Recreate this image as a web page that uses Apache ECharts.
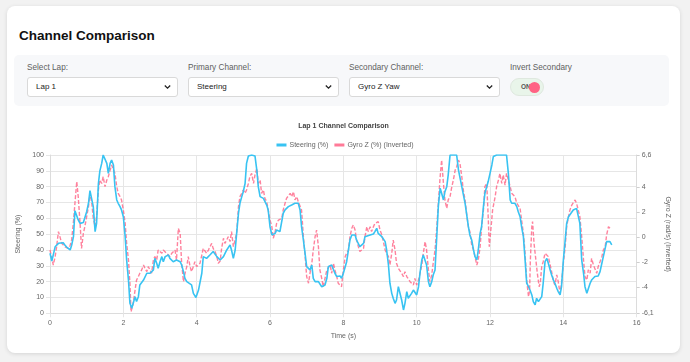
<!DOCTYPE html>
<html>
<head>
<meta charset="utf-8">
<script src="https://cdn.jsdelivr.net/npm/echarts@6/dist/echarts.min.js"></script>
<style>
  html, body { margin:0; padding:0; }
  body { width:690px; height:362px; background:#f2f2f2; position:relative; overflow:hidden;
         font-family:'Liberation Sans', Arial, Helvetica, sans-serif; }
  .card { position:absolute; left:7px; top:6px; width:673px; height:347px; background:#fff;
          border-radius:8px; box-shadow:0 1px 4px rgba(0,0,0,0.12); }
  .h { position:absolute; left:19px; top:28.5px; font-size:13.5px; line-height:13.5px; font-weight:bold; color:#111; }
  .panel { position:absolute; left:14px; top:55px; width:655px; height:51px; background:#f7f8fa; border-radius:5px; }
  .lbl { position:absolute; top:63.5px; font-size:8.2px; line-height:8.5px; color:#606060; }
  .sel { position:absolute; top:77px; width:149px; height:18px; background:#fff; border:1px solid #d9d9d9;
         border-radius:3px; font-size:8px; line-height:18px; color:#222; box-sizing:content-box; }
  .sel span { position:absolute; left:8px; top:0; }
  .sel svg { position:absolute; right:6px; top:6px; }
  .tog { position:absolute; left:510px; top:78px; width:32px; height:16px; background:#e9f5ea;
         border:1px solid #dfe8df; border-radius:9px; }
  .tog span { position:absolute; left:10px; top:4px; font-size:6.5px; line-height:7px; color:#555; font-weight:bold; }
  .knob { position:absolute; left:529px; top:82px; width:11px; height:11px; border-radius:50%; background:#ff6384; }
  #chart { position:absolute; left:0; top:110px; width:690px; height:240px; }
</style>
</head>
<body>
<div class="card"></div>
<div class="h">Channel Comparison</div>
<div class="panel"></div>
<div class="lbl" style="left:27px">Select Lap:</div>
<div class="lbl" style="left:188px">Primary Channel:</div>
<div class="lbl" style="left:349px">Secondary Channel:</div>
<div class="lbl" style="left:510px">Invert Secondary</div>
<div class="sel" style="left:27px"><span>Lap 1</span><svg width="7" height="6" viewBox="0 0 7 6"><path d="M0.8 1.5 L3.5 4.2 L6.2 1.5" stroke="#222" stroke-width="1.3" fill="none"/></svg></div>
<div class="sel" style="left:188px"><span>Steering</span><svg width="7" height="6" viewBox="0 0 7 6"><path d="M0.8 1.5 L3.5 4.2 L6.2 1.5" stroke="#222" stroke-width="1.3" fill="none"/></svg></div>
<div class="sel" style="left:349px"><span>Gyro Z Yaw</span><svg width="7" height="6" viewBox="0 0 7 6"><path d="M0.8 1.5 L3.5 4.2 L6.2 1.5" stroke="#222" stroke-width="1.3" fill="none"/></svg></div>
<div class="tog"><span>ON</span></div>
<div class="knob"></div>
<div id="chart"></div>
<script>
const chartTitle = 'Lap 1 Channel Comparison';
const seriesNames = ['Steering (%)', 'Gyro Z (%) (Inverted)'];
const xName = 'Time (s)';
const yLeftName = 'Steering (%)';
const yRightName = 'Gyro Z (rad/s) (Inverted)';
const rightTicks = [-6.1, -4, -2, 0, 2, 4, 6.6];

const steering = [[0,37.9],[0.05,33],[0.14,42],[0.23,44.2],[0.36,44.6],[0.41,43],[0.46,41.7],[0.5,42.5],[0.55,40],[0.59,43],[0.64,48.4],[0.68,64.8],[0.73,64.8],[0.77,59],[0.82,56.8],[0.91,57.3],[0.95,57.9],[1.0,64.2],[1.05,69.5],[1.09,77.5],[1.14,76.8],[1.18,67.4],[1.23,51.6],[1.27,56.8],[1.32,82],[1.36,90],[1.41,94.7],[1.45,100],[1.5,100],[1.55,94.7],[1.59,88.4],[1.64,94.7],[1.68,96.8],[1.73,93.7],[1.77,80],[1.82,71.6],[1.86,69.5],[1.91,67.4],[1.95,65.3],[2.0,61],[2.05,48.4],[2.09,33.7],[2.14,21],[2.18,6.3],[2.23,3.2],[2.27,4.2],[2.32,10.5],[2.36,7.4],[2.41,10.5],[2.45,17.9],[2.5,16.8],[2.55,21],[2.59,22],[2.64,25.3],[2.68,26.3],[2.73,25.3],[2.77,24.2],[2.82,27.4],[2.86,34.7],[2.91,31.6],[2.95,28.4],[3.0,32.6],[3.05,35.8],[3.09,32.6],[3.14,35.8],[3.18,34.7],[3.23,36.8],[3.27,34.7],[3.36,32.6],[3.45,33.7],[3.55,32.6],[3.59,30.5],[3.64,26.3],[3.68,22.1],[3.73,20],[3.77,19],[3.86,18],[3.91,12.6],[3.98,10],[4.05,14.7],[4.14,25.3],[4.18,35.8],[4.27,34.7],[4.36,36.8],[4.45,39],[4.55,35.8],[4.64,33.7],[4.73,35.8],[4.82,40],[4.91,43.2],[4.95,40],[5.0,34.7],[5.05,40],[5.09,50.5],[5.14,63.2],[5.18,69.5],[5.23,73.7],[5.27,76.8],[5.32,82],[5.36,94.7],[5.41,99.4],[5.5,100],[5.59,99.4],[5.64,90.5],[5.68,80],[5.73,73.7],[5.82,72.6],[5.91,68.4],[5.95,65.3],[6.0,54.7],[6.05,49.5],[6.14,50.5],[6.18,52.6],[6.27,51.6],[6.32,52.6],[6.36,63.2],[6.41,65.3],[6.5,67.4],[6.59,68.4],[6.68,69.5],[6.73,70.5],[6.77,69.5],[6.82,65.3],[6.86,54.7],[6.91,46.3],[6.95,39],[7.0,29.5],[7.05,30.5],[7.09,27.4],[7.14,30.5],[7.18,22.1],[7.23,20],[7.32,20],[7.41,16.8],[7.45,15.8],[7.5,17.9],[7.55,22.1],[7.59,29.5],[7.68,30.5],[7.77,25.3],[7.82,23.2],[7.91,23.6],[7.95,22.1],[8.0,25.3],[8.09,32.6],[8.18,46.3],[8.23,49.5],[8.32,49.5],[8.36,46.3],[8.45,42.1],[8.5,41],[8.55,44.2],[8.59,48.4],[8.64,49.5],[8.73,49.5],[8.82,50.1],[8.86,51.6],[8.91,53.7],[8.95,50.5],[9.05,48.4],[9.14,45.3],[9.18,40],[9.23,30.5],[9.27,19],[9.32,12.6],[9.36,9.5],[9.41,6.3],[9.45,8.4],[9.5,16.8],[9.55,17.9],[9.59,8.4],[9.64,2.1],[9.68,6.3],[9.73,13.7],[9.77,9.5],[9.82,8.8],[9.86,12.6],[9.91,14.7],[9.95,15.8],[10.0,11.6],[10.05,16.8],[10.09,25.3],[10.14,33.7],[10.18,36.8],[10.23,35.8],[10.27,30.5],[10.32,20],[10.36,16.8],[10.41,20],[10.45,24.2],[10.5,27.4],[10.55,49.5],[10.59,67.4],[10.64,79],[10.68,75.8],[10.73,71.6],[10.77,76.8],[10.82,80],[10.86,87.4],[10.91,100],[11.09,100],[11.14,90.5],[11.23,80],[11.32,69.5],[11.41,54.7],[11.45,49.5],[11.5,46.3],[11.55,40],[11.59,35.8],[11.64,33.7],[11.68,40],[11.73,50.5],[11.77,54.7],[11.82,67.4],[11.86,75.8],[11.91,80],[11.95,83.2],[12.0,88.4],[12.05,93.7],[12.09,99],[12.18,100],[12.45,100],[12.5,88.4],[12.55,71.6],[12.59,69.5],[12.68,69.5],[12.73,67.4],[12.77,64.2],[12.82,61],[12.86,54.7],[12.91,48.4],[12.95,35.8],[13.0,19],[13.05,16.8],[13.09,14.7],[13.14,11.6],[13.18,7.4],[13.23,5.3],[13.27,9.5],[13.32,7.4],[13.36,6.3],[13.41,10.5],[13.45,19],[13.5,32.6],[13.55,34.7],[13.59,31.6],[13.64,27.4],[13.68,24.2],[13.73,21],[13.77,19],[13.82,15.8],[13.86,13.7],[13.91,11.6],[13.95,16.8],[14.0,33.7],[14.05,46.3],[14.09,56.8],[14.14,61],[14.18,62.1],[14.27,65.3],[14.36,66.3],[14.41,65.3],[14.45,56.8],[14.5,33.7],[14.55,25.3],[14.59,16.8],[14.64,12.6],[14.68,13.7],[14.73,19],[14.77,21],[14.82,22.1],[14.86,23.2],[14.95,23.6],[15.0,26.3],[15.05,31.6],[15.09,35.8],[15.14,41],[15.18,45.3],[15.23,46.3],[15.27,45.3],[15.32,43.2]];

const gyroInverted = [[0,40],[0.09,30.5],[0.14,35.8],[0.18,42],[0.23,51.6],[0.27,48.4],[0.32,44.2],[0.41,42],[0.5,41],[0.55,43],[0.59,46.3],[0.64,57.9],[0.68,69.5],[0.73,83.2],[0.77,73.7],[0.82,56.8],[0.86,41],[0.91,50.5],[0.95,54.7],[1.0,61],[1.05,67.4],[1.09,75.8],[1.14,69.5],[1.18,60],[1.23,54.7],[1.27,61],[1.32,77.9],[1.36,84.2],[1.41,82],[1.45,86.3],[1.5,80],[1.55,84.2],[1.59,86.3],[1.64,90.5],[1.68,93.7],[1.73,94.7],[1.77,88.4],[1.82,80],[1.86,75.8],[1.91,73.7],[1.95,71.6],[2.0,65.3],[2.05,56.8],[2.09,44.2],[2.14,33.7],[2.18,19],[2.21,1],[2.27,6.3],[2.32,14.7],[2.36,21],[2.41,23.2],[2.45,25.3],[2.5,27.4],[2.55,30.5],[2.59,28.4],[2.64,26.3],[2.68,29.5],[2.77,25.3],[2.82,33.7],[2.86,35.8],[2.91,33.7],[2.95,40],[3.0,41],[3.05,37.9],[3.09,40],[3.14,39],[3.18,37.9],[3.23,39],[3.27,35.8],[3.32,37.9],[3.41,40],[3.45,33.7],[3.5,53.7],[3.55,50.5],[3.59,31.6],[3.64,20],[3.68,25],[3.73,29.5],[3.77,35.8],[3.82,29.5],[3.86,26.3],[3.91,29.5],[3.95,32.6],[4.0,29.5],[4.05,28.4],[4.09,31.6],[4.14,36.8],[4.18,41],[4.23,41],[4.27,37.9],[4.32,40],[4.41,44.2],[4.45,41],[4.5,39],[4.55,35.8],[4.59,31.6],[4.64,33],[4.68,41],[4.73,47.4],[4.77,44.2],[4.82,46.3],[4.86,48.4],[4.91,45.3],[4.95,51.6],[5.0,42.1],[5.05,42],[5.09,50.5],[5.14,67.4],[5.18,73.7],[5.23,75.8],[5.27,77.9],[5.32,75.8],[5.36,77.9],[5.41,82],[5.45,86.3],[5.5,88.4],[5.55,82],[5.59,87.4],[5.64,91.6],[5.68,82],[5.73,84.2],[5.77,75.8],[5.82,77.9],[5.86,72.6],[5.91,70.5],[5.95,65.3],[6.0,58.9],[6.05,54.7],[6.09,47.4],[6.14,51.6],[6.18,56.8],[6.23,58.9],[6.27,57.9],[6.32,60],[6.36,65.3],[6.41,69.5],[6.45,72.6],[6.5,71.6],[6.55,75.8],[6.59,73.7],[6.64,76.8],[6.68,71.6],[6.73,73.7],[6.77,70.5],[6.82,71.6],[6.86,65.3],[6.91,48.4],[6.95,37.9],[7.0,23.2],[7.05,19],[7.09,25.3],[7.14,31.6],[7.18,40],[7.23,48.4],[7.27,52.6],[7.32,42.1],[7.36,27.4],[7.41,22.1],[7.45,16.8],[7.5,22.1],[7.55,27.4],[7.64,30.5],[7.68,25.3],[7.73,31.6],[7.77,27.4],[7.82,23.2],[7.86,19],[7.91,19],[7.95,16.8],[8.0,27.4],[8.05,35.8],[8.09,37.9],[8.14,40],[8.18,48.4],[8.23,53.7],[8.27,55.8],[8.32,52.6],[8.36,46.3],[8.41,42.1],[8.45,39],[8.5,40],[8.55,41],[8.59,48.4],[8.64,54.7],[8.68,51.6],[8.73,54.7],[8.77,51.6],[8.82,54.7],[8.86,56.8],[8.95,57.9],[9.0,52.6],[9.05,49.5],[9.09,45.3],[9.14,40],[9.18,37.9],[9.23,35.8],[9.27,30.5],[9.32,37.9],[9.36,46.3],[9.41,40],[9.45,31.6],[9.5,28.4],[9.55,27.4],[9.59,25.3],[9.64,23.2],[9.68,26.3],[9.73,23.2],[9.77,24.2],[9.82,20],[9.86,21],[9.91,17.9],[9.95,22.1],[10.0,17.9],[10.05,21],[10.09,25.3],[10.14,30.5],[10.18,37.9],[10.23,45.3],[10.27,40],[10.32,27.4],[10.36,20],[10.41,24.2],[10.45,31.6],[10.5,40],[10.55,54.7],[10.59,69.5],[10.64,86.3],[10.68,96.8],[10.73,82],[10.77,71.6],[10.82,66.3],[10.86,71.6],[10.91,73.7],[10.95,79],[11.0,84.2],[11.05,90.5],[11.09,92.6],[11.14,96.8],[11.18,94.7],[11.23,86.3],[11.27,77.9],[11.32,71.6],[11.36,63.2],[11.41,54.7],[11.45,51.6],[11.5,43.2],[11.55,40],[11.59,35.8],[11.64,30.5],[11.68,33.7],[11.73,42.1],[11.77,54.7],[11.82,65],[11.86,80],[11.91,82],[11.95,61],[11.98,42.1],[12.03,54.7],[12.07,65.3],[12.14,73.7],[12.18,80],[12.23,84.2],[12.27,88.4],[12.32,82],[12.36,87.4],[12.41,81],[12.45,88.4],[12.5,84.2],[12.55,80],[12.59,75.8],[12.64,76.8],[12.68,73.7],[12.73,69.5],[12.77,68.4],[12.82,66.3],[12.86,58.9],[12.91,50.5],[12.95,40],[13.0,21],[13.05,10.5],[13.08,14.7],[13.1,33.7],[13.14,54.7],[13.16,57.9],[13.2,44.2],[13.25,33.7],[13.29,25.3],[13.34,16.8],[13.37,19],[13.41,29.5],[13.45,32.6],[13.5,37.9],[13.55,39],[13.59,35.8],[13.64,30.5],[13.68,26.3],[13.73,20],[13.77,17.9],[13.82,24.2],[13.86,20],[13.91,12.6],[13.95,19],[14.0,31.6],[14.05,42.1],[14.09,54.7],[14.14,61],[14.18,65.3],[14.23,68.4],[14.27,69.5],[14.32,71.6],[14.36,69.5],[14.41,68.4],[14.45,61],[14.5,48.4],[14.55,33.7],[14.59,23.2],[14.64,21],[14.68,27.4],[14.73,25.3],[14.77,34.7],[14.82,30.5],[14.86,29.5],[14.91,25.3],[14.95,29.5],[15.0,32.6],[15.05,35.8],[15.09,40],[15.14,42.1],[15.18,49.5],[15.23,54.7],[15.27,53.7]];

const FONT = "'Liberation Sans', Arial, Helvetica, sans-serif";
const GRID = '#e6e6e6';
const TXT = '#666';
const chart = echarts.init(document.getElementById('chart'), null, {renderer:'canvas'});
chart.setOption({
  animation: false,
  textStyle: { fontFamily: FONT },
  title: { text: chartTitle, left: 343.5, textAlign: 'center', top: 13, padding: 0,
           textStyle: { fontSize: 7, fontWeight: 'bold', color: '#444', fontFamily: FONT } },
  legend: { top: 31.5, left: 'center', padding: 0, itemWidth: 10, itemHeight: 3, itemGap: 6, icon: 'rect',
            textStyle: { fontSize: 7, color: TXT, fontFamily: FONT, padding: [0,0,0,-2] },
            data: seriesNames },
  grid: { left: 50, right: 53.3, top: 45, bottom: 36.7 },
  xAxis: { type: 'value', min: 0, max: 16, interval: 2, name: xName, nameLocation: 'middle', nameGap: 19,
           nameTextStyle: { fontSize: 7, color: TXT, fontFamily: FONT },
           axisLine: { show: true, lineStyle: { color: '#dcdcdc', width: 1 } },
           axisTick: { show: true, length: 4, lineStyle: { color: GRID } },
           axisLabel: { fontSize: 7, color: TXT, margin: 6, fontFamily: FONT },
           splitLine: { show: true, lineStyle: { color: GRID, width: 1 } } },
  yAxis: [
    { type: 'value', min: 0, max: 100, interval: 10, position: 'left',
      name: yLeftName, nameLocation: 'middle', nameGap: 21, nameRotate: 90,
      nameTextStyle: { fontSize: 7, color: TXT, fontFamily: FONT },
      axisLine: { show: true, lineStyle: { color: '#dcdcdc', width: 1 } },
      axisTick: { show: true, length: 4, lineStyle: { color: GRID } },
      axisLabel: { fontSize: 7, color: TXT, margin: 6, fontFamily: FONT },
      splitLine: { show: true, lineStyle: { color: GRID, width: 1 } } },
    { type: 'value', min: -6.1, max: 6.6, position: 'right',
      name: yRightName, nameLocation: 'middle', nameGap: 21, nameRotate: -90,
      nameTextStyle: { fontSize: 7, color: TXT, fontFamily: FONT },
      axisLine: { show: true, lineStyle: { color: '#dcdcdc', width: 1 } },
      axisTick: { show: true, length: 3, customValues: rightTicks, lineStyle: { color: '#cfcfcf' } },
      axisLabel: { fontSize: 7, color: TXT, margin: 5, fontFamily: FONT, customValues: rightTicks,
                   formatter: v => String(Math.round(v * 10) / 10).replace('.', ',') },
      splitLine: { show: false } }
  ],
  series: [
    { name: seriesNames[0], type: 'line', yAxisIndex: 0, data: steering, showSymbol: false, symbol: 'none',
      z: 3, itemStyle: { color: '#38c3f2' }, lineStyle: { color: '#38c3f2', width: 1.6 } },
    { name: seriesNames[1], type: 'line', yAxisIndex: 0, data: gyroInverted, showSymbol: false, symbol: 'none',
      z: 2, itemStyle: { color: '#ff7a98' }, lineStyle: { color: 'rgba(255,99,132,0.8)', width: 1.4, type: [4, 2] } }
  ]
});
</script>
</body>
</html>
